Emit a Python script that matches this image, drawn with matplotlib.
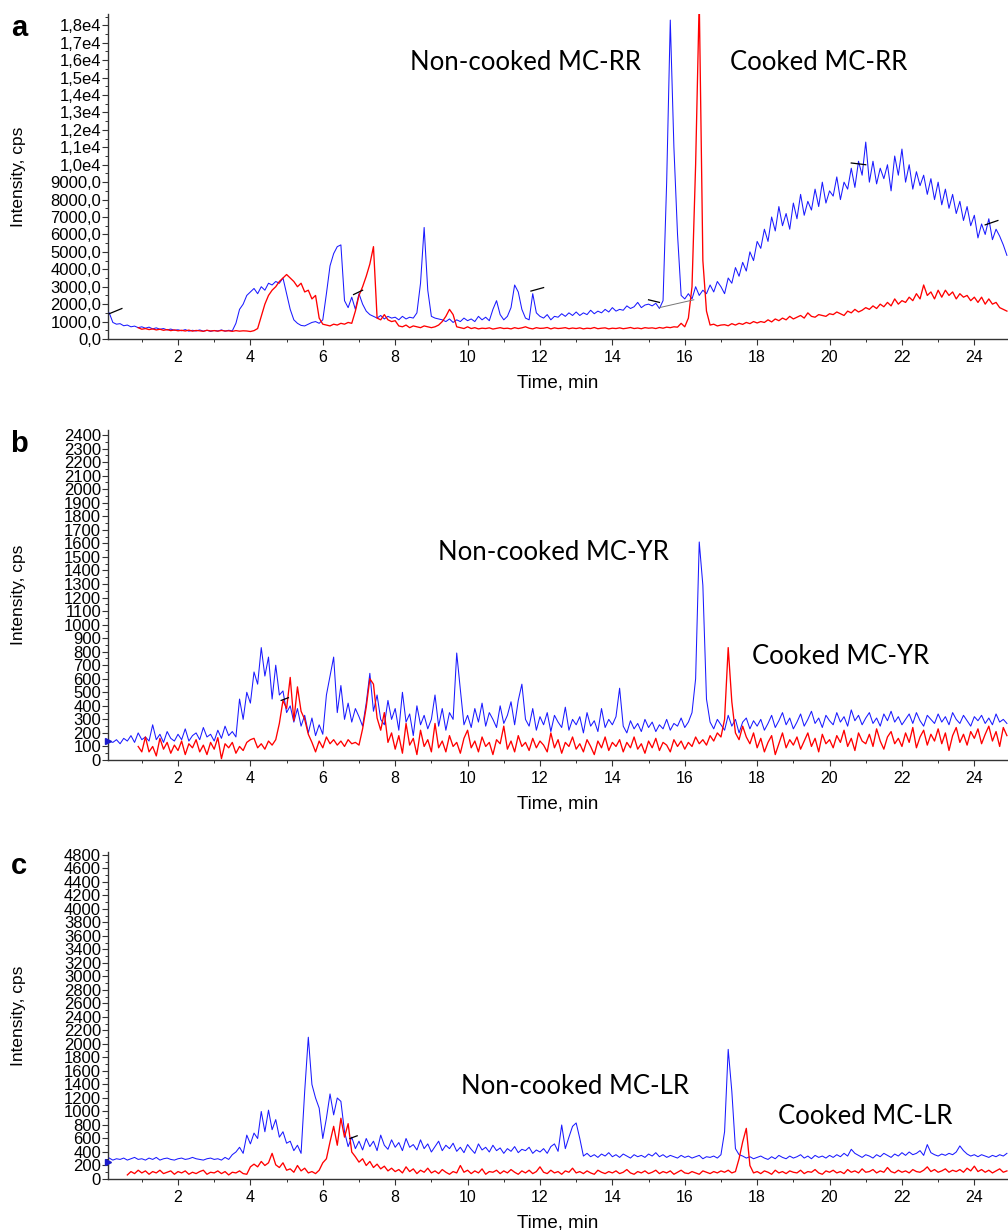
import numpy as np
import matplotlib
matplotlib.use("Agg")
import matplotlib.pyplot as plt
from matplotlib.ticker import MultipleLocator, FixedLocator, FuncFormatter

# ---------------- data (cps), sampled every 0.1 min ----------------
# Panel a : MC-RR
a_blue_t0 = 0.1
a_blue = [
    1500, 950, 850, 880, 760, 800, 700, 740, 650, 700,
    620, 680, 580, 640, 560, 600, 520, 570, 500, 530,
    470, 540, 450, 500, 460, 520, 450, 500, 440, 490,
    460, 520, 450, 500, 470, 900, 1700, 2000, 2500, 2700,
    2900, 2600, 3000, 2800, 3200, 3100, 3300, 3200, 3500, 2600,
    1700, 1100, 900, 780, 750, 850, 950, 1000, 900, 1100,
    2600, 4200, 4900, 5300, 5400, 2200, 1800, 2400, 1700, 2600,
    2000, 1600, 1400, 1300, 1200, 1350, 1150, 1300, 1200, 1250,
    1100, 1300, 1150, 1250, 1200, 1500, 3200, 6400, 2800, 1300,
    1200, 1150, 1100, 1000, 1150, 950, 1100, 1000, 1200, 1050,
    1150, 1000, 1300, 1100, 1250, 1050, 1700, 2200, 1400, 1100,
    1300, 1800, 3100, 2700, 1700, 1200, 1100, 2600, 1500, 1300,
    1200, 1400, 1100, 1300, 1250, 1450, 1300, 1500, 1350, 1550,
    1350, 1500, 1400, 1650, 1450, 1600, 1500, 1700, 1550, 1800,
    1600, 1700, 1650, 1900, 1750, 1850, 2100, 1800, 1950, 2000,
    1900, 2050, 1750, 2200, 9000, 18300, 11000, 6000, 2500, 2300,
    2600, 2300, 3000, 2500, 2800, 2600, 3100, 2700, 3300, 3000,
    2600, 3500, 3200, 4100, 3600, 4400, 3900, 5000, 4500, 5600,
    5200, 6300, 5600, 7000, 6200, 7600, 6500, 7200, 6300, 7800,
    6900, 8300, 7100, 7900, 7400, 8600, 7600, 9000, 7800, 8500,
    8200, 9300, 8000, 9000, 8600, 9800, 8700, 10200, 9400, 11300,
    9000, 10200, 8900, 9800, 9200, 10000, 8500, 10500, 9400, 10900,
    9000, 10000, 8600, 9600, 8800, 9400, 8300, 9200, 8000, 9000,
    7700, 8600, 7500, 8300, 7200, 7900, 6800, 7600, 6500, 7100,
    5800, 6600, 6000, 6900, 5700, 6300, 5900, 5400, 4800,
]
a_red_t0 = 0.9
a_red = [
    650, 560,
    600, 540, 580, 520, 560, 500, 540, 480, 520, 470,
    500, 460, 510, 450, 490, 470, 440, 500, 460, 480,
    450, 490, 460, 470, 440, 480, 450, 470, 460, 430,
    480, 600, 1300, 2000, 2500, 2800, 3000, 3300, 3500, 3700,
    3500, 3300, 3000, 3200, 2700, 2800, 2300, 2500, 1200, 850,
    800, 750, 850, 800, 900, 850, 950, 900, 1600, 2500,
    3000, 3600, 4300, 5300, 1200, 1100, 1400, 1100, 1000, 1050,
    750, 700, 800, 650, 750, 700, 650, 750, 700, 650,
    700, 800, 1000, 1300, 1700, 1400, 700, 650, 600, 700,
    600, 650, 580, 620, 600, 640, 570, 610, 650, 600,
    620, 580, 650, 600, 640, 700, 620, 580, 650, 610,
    620, 660, 580, 640, 600, 620, 650, 590, 630, 600,
    640, 580, 620, 600, 660, 590, 620, 640, 580, 620,
    600, 640, 590, 620, 660, 600, 630, 590, 650, 620,
    640, 600, 660, 620, 680, 650, 700, 680, 900, 700,
    1200, 3000, 10000, 19500, 4500, 1600, 800, 850, 750, 800,
    820, 760, 880, 800, 900, 840, 950, 880, 1000, 920,
    1000, 950, 1100, 980, 1150, 1050, 1200, 1100, 1300, 1150,
    1250, 1350, 1200, 1500, 1300, 1250, 1400, 1350, 1300, 1450,
    1400, 1550, 1450, 1350, 1600, 1500, 1700, 1550, 1650, 1800,
    1700, 1900, 1750, 2000, 1850, 2100, 1900, 2300, 2000, 2200,
    2100, 2400, 2200, 2600, 2300, 3100, 2500, 2700, 2300, 2800,
    2400, 2800, 2500, 2700, 2300, 2600, 2400, 2500, 2200, 2400,
    2100, 2400, 2000, 2300, 2000, 2100, 1800, 1700, 1600,
]
# Panel b : MC-YR
b_blue_t0 = 0.1
b_blue = [
    140, 130, 150, 120, 160, 140, 180, 130, 200, 150,
    170, 140, 260, 150, 190, 130, 210, 160, 140, 190,
    150, 230, 140, 180, 200, 150, 240, 170, 190, 140,
    220, 160, 250, 180, 210, 170, 450, 300, 500, 420,
    650, 560, 830, 620, 760, 450, 700, 480, 510, 350,
    400, 280, 380, 250, 330, 200, 310, 180, 260, 190,
    480, 620, 760, 350, 550, 300, 420, 280, 380, 320,
    250, 420, 640, 360, 480, 300, 260, 440, 300, 380,
    220, 500, 280, 340, 180, 400, 260, 330, 230, 300,
    480, 250, 380, 220, 350, 300, 790, 520, 260, 330,
    240, 380, 280, 420, 250, 350, 300, 240, 400, 270,
    330, 430, 260, 440, 560, 300, 250, 380, 220, 320,
    260, 350, 210, 330, 280, 240, 390, 220, 300, 260,
    320, 200, 350, 250, 290, 210, 380, 240, 300, 260,
    320, 530, 250, 200, 290, 230, 270, 210, 300, 240,
    280, 210, 260, 230, 300, 220, 270, 250, 310, 240,
    280, 350, 600, 1610, 1290, 450, 280, 230, 300, 260,
    220, 330, 250, 300, 200, 280, 310, 230, 290, 250,
    300, 220, 270, 330, 240, 290, 350, 260, 310, 230,
    280, 340, 250, 300, 360, 270, 310, 240, 330, 290,
    260, 350, 280, 320, 250, 370, 290, 330, 260, 310,
    350, 270, 310, 250, 340, 290, 360, 280, 320, 260,
    300, 340, 270, 350, 290, 250, 330, 300, 270, 340,
    280, 320, 260, 350, 300, 270, 330, 290, 250, 320,
    290, 330, 270, 310, 260, 340, 280, 300, 270,
]
b_red_t0 = 0.9
b_red = [
    100, 60,
    170, 60, 100, 30, 160, 80, 130, 50, 110, 70,
    140, 40, 120, 90, 150, 60, 110, 40, 130, 80,
    165, 10, 120, 90, 130, 50, 100, 70, 130, 150,
    160, 90, 120, 80, 140, 110, 150, 270, 440, 380,
    610, 290, 540, 360, 300, 190, 130, 60, 140, 90,
    170, 120, 150, 110, 140, 100, 150, 120, 130, 110,
    230, 390, 600, 560, 310, 220, 350, 130, 200, 80,
    180, 50, 270, 110, 160, 40, 220, 100, 150, 60,
    270, 90, 140, 60, 180, 100, 130, 50, 160, 220,
    90, 140, 60, 170, 100, 130, 40, 150, 120, 250,
    80, 140, 60, 180, 100, 130, 70, 160, 90, 140,
    110, 60, 200, 90, 150, 50, 130, 100, 170, 80,
    120, 60, 150, 100, 40, 140, 90, 170, 70, 130,
    100, 150, 60, 130, 90, 170, 80, 120, 50, 140,
    90, 160, 70, 130, 110, 60, 150, 100, 140, 80,
    130, 100, 170, 120, 150, 110, 180, 140, 200, 170,
    300, 830, 430, 200, 150, 250, 170, 120, 200, 90,
    160, 60, 130, 180, 40, 120, 200, 90, 150, 110,
    170, 80, 140, 200, 100, 160, 60, 190, 120, 150,
    90, 180, 130, 220, 100, 160, 70, 200, 140, 120,
    190, 100, 230, 140, 80, 170, 210, 120, 160, 100,
    200, 130, 240, 90, 170, 220, 110, 190, 140, 230,
    120, 200, 70, 180, 240, 130, 190, 110, 210, 160,
    230, 120, 190, 250, 140, 210, 100, 240, 180,
]
# Panel c : MC-LR
c_blue_t0 = 0.1
c_blue = [
    310, 280, 300, 290, 310, 280, 300, 320, 290, 300,
    280, 310, 290, 320, 280, 300, 310, 290, 280, 300,
    310, 290, 300, 320, 300, 290, 280, 300, 310, 290,
    300, 280, 320, 290, 360, 400, 470, 380, 650, 520,
    680, 600, 1000, 700, 1020, 730, 880, 620, 700, 530,
    560, 420, 500, 380, 1300, 2100, 1400, 1200, 1050, 600,
    900, 1260, 950, 1200, 1150, 700, 480, 620, 450, 560,
    430, 600, 480, 560, 420, 650, 500, 440, 580, 470,
    540, 420, 600, 470, 510, 430, 580, 450, 520, 400,
    480, 560, 420, 500, 450, 530, 410, 470, 390, 510,
    440, 380, 520, 430, 470, 400, 500, 420, 460, 380,
    450, 410, 480, 390, 440, 420, 470, 380, 430, 400,
    450, 380, 480, 520, 410, 800, 450, 620, 780, 830,
    600, 340, 380, 330, 360, 320, 370, 340, 390, 330,
    360, 320, 370, 340, 310, 360, 330, 350, 320, 370,
    340, 390, 330, 360, 320, 350, 330, 310, 350, 320,
    340, 310, 330, 350, 300, 330, 320, 340, 310, 360,
    700, 1920, 1300, 450, 360, 340, 310, 330, 300, 320,
    340, 310, 290, 330, 300, 350, 320, 300, 340, 310,
    330, 360, 310, 340, 300, 350, 320, 340, 310, 350,
    320, 360, 330, 380, 340, 440, 380, 350, 320, 360,
    340, 310, 360, 330, 380, 350, 320, 370, 340, 390,
    350, 400, 360, 380, 420, 350, 510, 390, 360, 340,
    370, 350, 380, 360, 400, 490, 420, 370, 340, 360,
    330, 360, 340, 320, 350, 330, 360, 340, 380,
]
c_red_t0 = 0.6
c_red = [
    60, 110, 80, 130, 90,
    120, 70, 110, 90, 130, 80, 100, 120, 70, 110,
    90, 120, 70, 100, 80, 110, 130, 70, 100, 90,
    120, 80, 110, 60, 100, 90, 120, 80, 70, 180,
    220, 180, 260, 200, 240, 380, 210, 170, 240, 130,
    150, 100, 200, 120, 160, 90, 110, 80, 130, 240,
    300, 550, 780, 500, 900, 620, 820, 400, 330, 250,
    300, 200, 260, 170, 220, 150, 190, 120, 160, 110,
    140, 90, 180, 110, 150, 80, 130, 100, 160, 90,
    120, 80, 140, 100, 70, 110, 90, 200, 100, 130,
    80, 120, 90, 150, 70, 110, 100, 130, 80, 120,
    90, 140, 100, 70, 120, 90, 130, 80, 110, 180,
    100, 80, 130, 90, 110, 70, 120, 100, 160, 90,
    110, 80, 120, 90, 70, 130, 100, 80, 110, 90,
    120, 80, 100, 140, 90, 70, 110, 90, 120, 80,
    100, 130, 80, 110, 90, 120, 70, 100, 130, 90,
    80, 110, 90, 70, 120, 100, 80, 110, 90, 120,
    100, 130, 90, 110, 300, 550, 750, 200, 90, 110,
    80, 120, 100, 70, 130, 90, 110, 80, 120, 100,
    90, 130, 80, 110, 100, 140, 90, 70, 120, 100,
    130, 90, 110, 80, 140, 100, 120, 90, 150, 100,
    110, 140, 90, 120, 100, 170, 110, 90, 130, 100,
    120, 90, 140, 110, 100, 130, 180, 110, 140, 100,
    120, 150, 100, 130, 110, 140, 100, 160, 120, 190,
    110, 140, 100, 130, 90, 120, 150, 100, 120,
]

# peak-integration marks (time, cps) pairs
a_marks = [[(0.1, 1450), (0.45, 1750)], [(6.85, 2550), (7.1, 2800)],
           [(11.75, 2750), (12.1, 2950)], [(15.0, 2250), (15.3, 2100)],
           [(20.6, 10100), (21.0, 10000)], [(24.3, 6550), (24.65, 6800)]]
a_gray = [(15.3, 1800), (16.25, 2250)]
b_marks = [[(4.85, 440), (5.05, 460)]]
c_marks = [[(6.75, 600), (6.95, 640)]]
b_start = 140
c_start = 250

labels_a = ("Non-cooked MC-RR", "Cooked MC-RR")
labels_b = ("Non-cooked MC-YR", "Cooked MC-YR")
labels_c = ("Non-cooked MC-LR", "Cooked MC-LR")

# ---------------- figure ----------------
W, H = 1008, 1230
fig = plt.figure(figsize=(W / 100, H / 100), dpi=100)
TICKFONT = "Liberation Sans"
ANNFONT = "Lato"

def px(x, y):
    return x / W, 1 - y / H

def tgrid(t0, n):
    return np.round(t0 + 0.1 * np.arange(n), 2)

AX_L, AX_R = 108, 1008
XMIN, XMAX = 0.066, 24.93

def make_axes(top, bottom, ymax, major, minor, fmt):
    ax = fig.add_axes([AX_L / W, 1 - bottom / H, (AX_R - AX_L) / W, (bottom - top) / H])
    ax.set_xlim(XMIN, XMAX)
    ax.set_ylim(0, ymax)
    for s in ("top", "right"):
        ax.spines[s].set_visible(False)
    for s in ("left", "bottom"):
        ax.spines[s].set_color("#333333")
        ax.spines[s].set_linewidth(1.0)
    ax.xaxis.set_major_locator(FixedLocator(list(range(2, 25, 2))))
    ax.xaxis.set_minor_locator(MultipleLocator(1))
    ax.yaxis.set_major_locator(MultipleLocator(major))
    ax.yaxis.set_minor_locator(MultipleLocator(minor))
    ax.yaxis.set_major_formatter(FuncFormatter(fmt))
    ax.tick_params(axis="both", which="major", length=4, width=0.8, colors="#333333",
                   labelcolor="black")
    ax.tick_params(axis="both", which="minor", length=2.5, width=0.7, colors="#333333")
    ax.tick_params(axis="y", which="major", pad=1)
    ax.tick_params(axis="x", which="major", pad=4)
    for lab in ax.get_xticklabels():
        lab.set_fontfamily(TICKFONT)
        lab.set_fontsize(11.5)
    for lab in ax.get_yticklabels():
        lab.set_fontfamily(TICKFONT)
        lab.set_fontsize(12)
    return ax

def fmt_a(v, pos):
    if v < 10000:
        return f"{int(round(v))},0"
    return f"{v / 1e4:.1f}e4".replace(".", ",")

def fmt_int(v, pos):
    return f"{int(round(v))}"

panels = [
    dict(top=14, bottom=339, ymax=18650, major=1000, minor=500, fmt=fmt_a,
         blue=(a_blue_t0, a_blue), red=(a_red_t0, a_red), marks=a_marks,
         letter="a", labels=labels_a, lab_pos=((525, 62), (819, 62)), start=None),
    dict(top=430, bottom=760, ymax=2437, major=100, minor=50, fmt=fmt_int,
         blue=(b_blue_t0, b_blue), red=(b_red_t0, b_red), marks=b_marks,
         letter="b", labels=labels_b, lab_pos=((553, 552), (841, 657)), start=b_start),
    dict(top=852, bottom=1179, ymax=4844, major=200, minor=100, fmt=fmt_int,
         blue=(c_blue_t0, c_blue), red=(c_red_t0, c_red), marks=c_marks,
         letter="c", labels=labels_c, lab_pos=((575, 1087), (865, 1117)), start=c_start),
]

for p in panels:
    ax = make_axes(p["top"], p["bottom"], p["ymax"], p["major"], p["minor"], p["fmt"])
    t0, vb = p["blue"]
    ax.plot(tgrid(t0, len(vb)), vb, color="#1a1aff", lw=0.75, zorder=3)
    t0, vr = p["red"]
    ax.plot(tgrid(t0, len(vr)), vr, color="#ff0000", lw=0.95, zorder=4)
    for seg in p["marks"]:
        xs, ys = zip(*seg)
        ax.plot(xs, ys, color="black", lw=0.9, zorder=5)
    if p["letter"] == "a":
        xs, ys = zip(*a_gray)
        ax.plot(xs, ys, color="#777777", lw=0.7, zorder=5)
    if p["start"] is not None:
        ax.plot([XMIN], [p["start"]], marker=">", color="#1a1acc", ms=5,
                clip_on=False, zorder=6)
    cy = (p["top"] + p["bottom"]) / 2
    fig.text(*px(18.5, cy), "Intensity, cps", rotation=90, ha="center", va="center",
             fontsize=12.5, family=TICKFONT)
    fig.text(*px(558, p["bottom"] + 44), "Time, min", ha="center", va="center",
             fontsize=13.5, family=TICKFONT)
    fig.text(*px(19, p["top"] + 14), p["letter"], ha="center", va="center",
             fontsize=21, fontweight="bold", family=TICKFONT)
    for txt, (lx, ly) in zip(p["labels"], p["lab_pos"]):
        fig.text(*px(lx, ly), txt, ha="center", va="center", fontsize=18.5, family=ANNFONT)

fig.savefig("out.png", dpi=100)
